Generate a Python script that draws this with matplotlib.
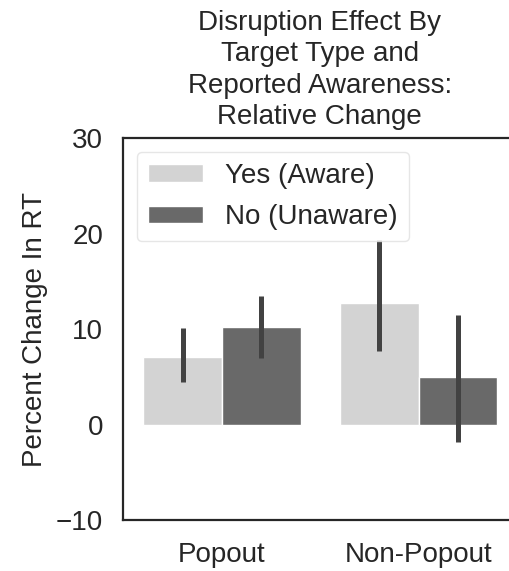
import matplotlib
matplotlib.use("Agg")
import matplotlib.pyplot as plt
import numpy as np

# data
categories = ["Popout", "Non-Popout"]
aware_mean = [7.1, 12.7]
aware_lo = [4.5, 7.7]
aware_hi = [10.1, 19.3]
unaware_mean = [10.2, 5.0]
unaware_lo = [7.0, -1.8]
unaware_hi = [13.5, 11.5]
labels = ["Yes (Aware)", "No (Unaware)"]

plt.rcParams['font.family'] = ['Liberation Sans', 'DejaVu Sans']
plt.rcParams['text.color'] = '#262626'
plt.rcParams['axes.labelcolor'] = '#262626'
plt.rcParams['xtick.color'] = '#262626'
plt.rcParams['ytick.color'] = '#262626'

fig = plt.figure(figsize=(5.1, 5.71), dpi=100)
ax = fig.add_axes([0.2406, 0.0893, 0.7727, 0.669])

x = np.arange(len(categories))
w = 0.4
groups = [
    (aware_mean, aware_lo, aware_hi, '#d3d3d3', -w / 2),
    (unaware_mean, unaware_lo, unaware_hi, '#696969', w / 2),
]
for (mean, lo, hi, col, off), lab in zip(groups, labels):
    ax.bar(x + off, mean, width=w, color=col, edgecolor='white', linewidth=1, label=lab)
for (mean, lo, hi, col, off) in groups:
    ax.vlines(x + off, lo, hi, color='#424242', linewidth=3.6, zorder=3)

ax.set_xlim(-0.505, 1.5)
ax.set_ylim(-10, 30)
ax.set_yticks([-10, 0, 10, 20, 30])
ax.set_xticks(x)
ax.set_xticklabels(categories)
ax.tick_params(axis='both', length=0, labelsize=20)
ax.tick_params(axis='y', pad=14)
ax.tick_params(axis='x', pad=16)
for s in ax.spines.values():
    s.set_color('#262626')
    s.set_linewidth(1.6)

ax.set_ylabel("Percent Change In RT", fontsize=20, labelpad=6)
ax.set_title("Disruption Effect By\nTarget Type and\nReported Awareness:\nRelative Change",
             fontsize=20, pad=10, linespacing=1.27)

leg = ax.legend(loc='upper left', fontsize=20, frameon=True, fancybox=True,
                handlelength=2.0, handleheight=0.6, borderaxespad=0.5,
                labelspacing=0.55, handletextpad=0.8)
leg.get_frame().set_edgecolor('#e0e0e0')

fig.savefig("out.png", dpi=100)
